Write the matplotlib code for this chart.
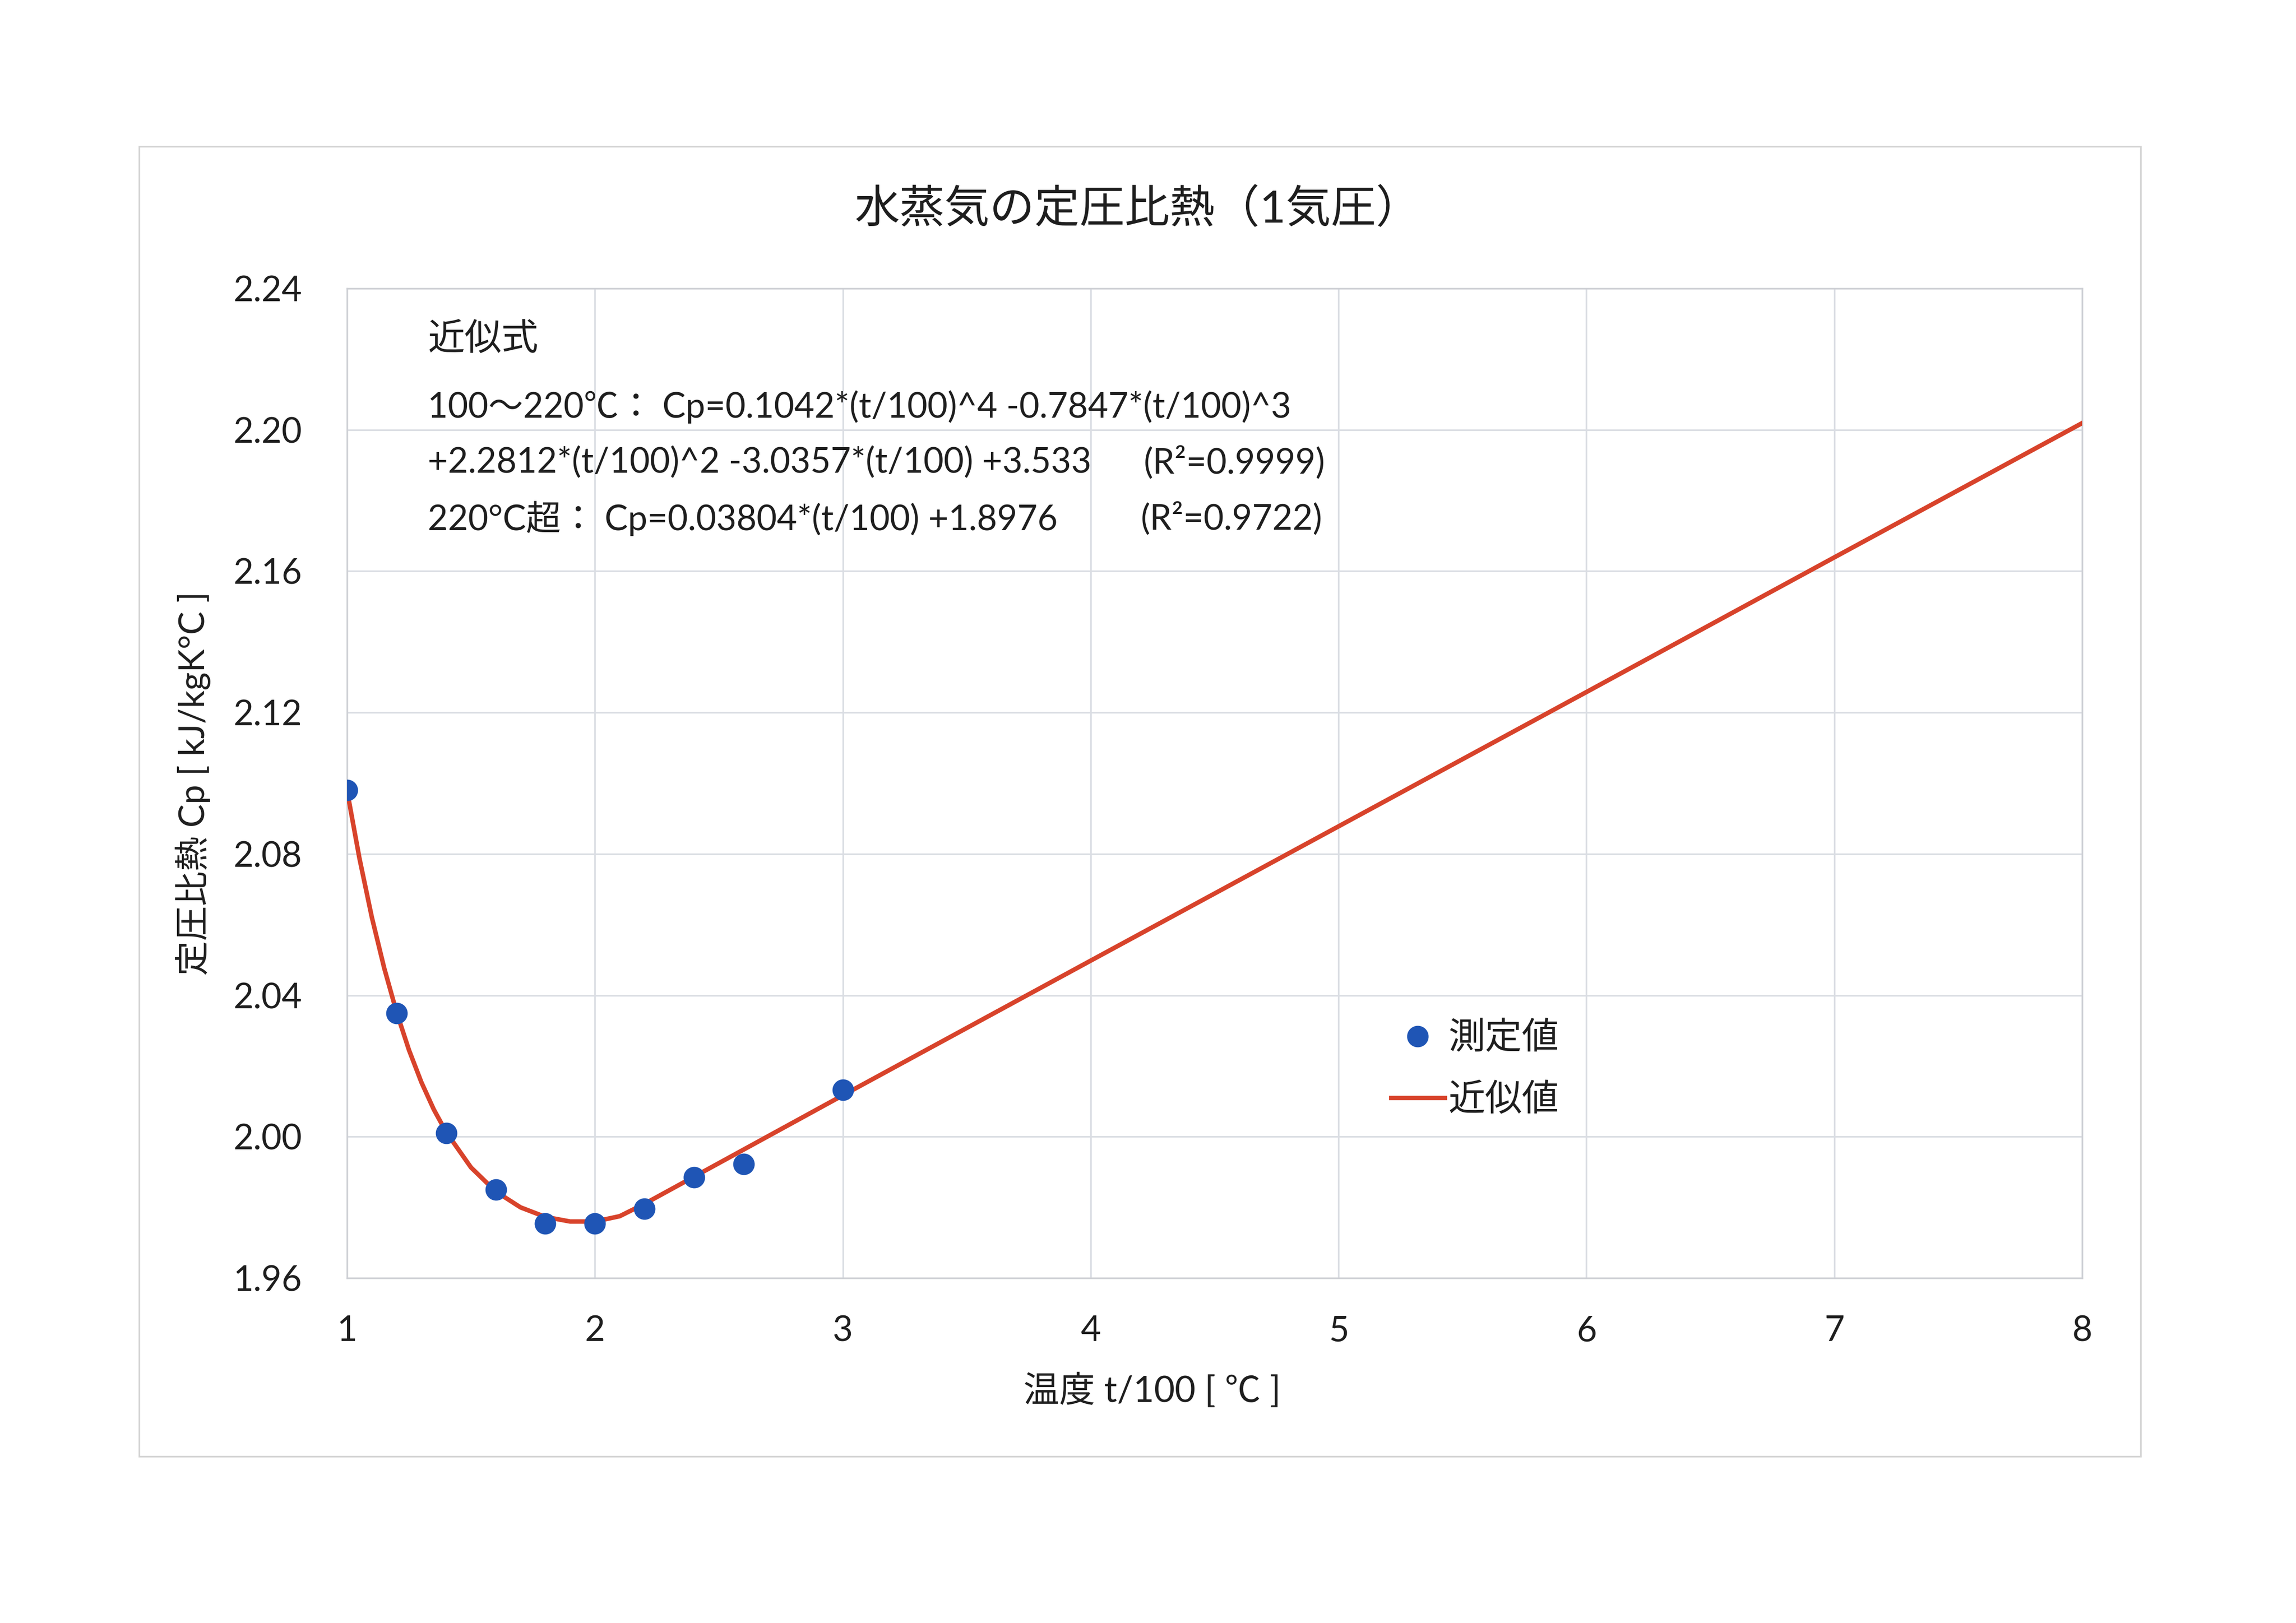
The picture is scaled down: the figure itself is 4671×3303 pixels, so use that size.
import matplotlib
matplotlib.use("Agg")
import matplotlib.pyplot as plt
from matplotlib.patches import Rectangle
from matplotlib.lines import Line2D

plt.rcParams['font.family'] = ['Lato', 'Noto Sans CJK JP', 'DejaVu Sans']

# ---- data ----
meas_x = [1.0, 1.2, 1.4, 1.6, 1.8, 2.0, 2.2, 2.4, 2.6, 3.0]
meas_y = [2.098, 2.035, 2.001, 1.985, 1.9755, 1.9755, 1.9796, 1.9885, 1.9923, 2.0133]

fit_x = [1.0, 1.05, 1.1, 1.15, 1.2, 1.25, 1.3, 1.35, 1.4, 1.5, 1.6, 1.7, 1.8, 1.9,
         2.0, 2.1, 2.2, 3.0, 4.0, 5.0, 6.0, 7.0, 8.0]
fit_y = [2.098, 2.0788, 2.0621, 2.0477, 2.0352, 2.0245, 2.0154, 2.0077, 2.0013, 1.9913,
         1.9845, 1.9800, 1.9773, 1.9760, 1.9760, 1.9775, 1.9810, 2.0117, 2.0498,
         2.0878, 2.1258, 2.1639, 2.2019]

x_ticks = [1, 2, 3, 4, 5, 6, 7, 8]
y_ticks = [1.96, 2.00, 2.04, 2.08, 2.12, 2.16, 2.20, 2.24]
y_tick_labels = ['1.96', '2.00', '2.04', '2.08', '2.12', '2.16', '2.20', '2.24']

title = '水蒸気の定圧比熱（1気圧）'
x_label = '温度 t/100 [ ℃ ]'
y_label = '定圧比熱 Cp [ kJ/kgK°C ]'
series_names = ['測定値', '近似値']
eq_head = '近似式'
eq_lines = ['100～220℃： Cp=0.1042*(t/100)^4 -0.7847*(t/100)^3',
            '+2.2812*(t/100)^2 -3.0357*(t/100) +3.533',
            '220°C超： Cp=0.03804*(t/100) +1.8976']
r2_texts = ['(R²=0.9999)', '(R²=0.9722)']

# ---- figure ----
W, H = 4671, 3303
fig = plt.figure(figsize=(W / 300, H / 300), dpi=300)
fig.patch.set_facecolor('white')

def fx(px):
    return px / W

def fy(py):
    return 1 - py / H

txt_color = '#1e1e1e'

# chart area border
fig.patches.append(Rectangle((fx(283), fy(2964)), fx(4355) - fx(283), fy(298) - fy(2964),
                             transform=fig.transFigure, fill=False,
                             edgecolor='#d4d4d4', lw=0.8))

ax = fig.add_axes([fx(706), fy(2601), fx(4236) - fx(706), fy(587) - fy(2601)])
ax.set_xlim(1, 8)
ax.set_ylim(1.96, 2.24)
ax.set_xticks(x_ticks)
ax.set_yticks(y_ticks)
ax.set_yticklabels(y_tick_labels)
ax.grid(True, color='#dadde3', lw=0.8)
ax.set_axisbelow(True)
for s in ax.spines.values():
    s.set_color('#cfd1d6')
    s.set_linewidth(0.8)
ax.tick_params(length=0, labelsize=17, colors=txt_color)
ax.tick_params(axis='y', pad=22)
ax.tick_params(axis='x', pad=18)

line_color = '#d8432b'
mark_color = '#1f55b5'
ax.plot(fit_x, fit_y, color=line_color, lw=2.2, zorder=3)
ax.plot(meas_x, meas_y, 'o', color=mark_color, ms=9.5, zorder=4)

# title & axis labels
fig.text(fx(2315), fy(426), title, ha='center', va='center', fontsize=22, color=txt_color)
fig.text(fx(2344), fy(2830), x_label, ha='center', va='center', fontsize=17.5, color=txt_color)
fig.text(fx(393), fy(1594), y_label, ha='center', va='center', rotation=90,
         fontsize=17, color=txt_color)

# equation text
fs_eq = 17
fig.text(fx(870), fy(691), eq_head, ha='left', va='center', fontsize=18, color=txt_color)
fig.text(fx(870), fy(828), eq_lines[0], ha='left', va='center', fontsize=fs_eq, color=txt_color)
fig.text(fx(870), fy(941), eq_lines[1], ha='left', va='center', fontsize=fs_eq, color=txt_color)
fig.text(fx(870), fy(1055), eq_lines[2], ha='left', va='center', fontsize=fs_eq, color=txt_color)
fig.text(fx(2327), fy(941), r2_texts[0], ha='left', va='center', fontsize=fs_eq, color=txt_color)
fig.text(fx(2321), fy(1055), r2_texts[1], ha='left', va='center', fontsize=fs_eq, color=txt_color)

# legend
handles = [Line2D([], [], ls='none', marker='o', color=mark_color, ms=9.5),
           Line2D([], [], color=line_color, lw=2.2)]
leg = ax.legend(handles, series_names, loc='center left',
                bbox_to_anchor=((2800 - 706) / (4236 - 706), (2601 - 2176) / (2601 - 587)),
                frameon=False, fontsize=18, handlelength=1.45, handletextpad=0.1,
                labelspacing=0.75, borderaxespad=0)
for t in leg.get_texts():
    t.set_color(txt_color)

fig.savefig('out.png', dpi=300, facecolor='white')
